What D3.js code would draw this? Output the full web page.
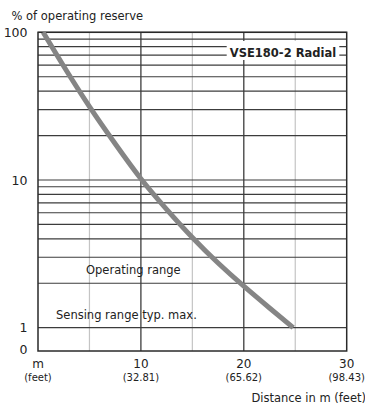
<!DOCTYPE html>
<html><head><meta charset="utf-8">
<script src="https://cdn.jsdelivr.net/npm/d3@7"></script>
<style>
html,body{margin:0;padding:0;background:#fff;}
svg{display:block;font-family:"DejaVu Sans",sans-serif;}
</style></head>
<body><svg id="c" width="365" height="406"></svg>
<script>
// ---- data ----
const distance = [0.5, 2.5, 5, 7.5, 10, 12.5, 15, 17.5, 20, 22.5, 24.8];
const reserve  = [100, 58.9, 31.4, 17.6, 10.2, 6.33, 4.08, 2.74, 1.91, 1.36, 1.0];
const xMajorTicks = [0, 10, 20, 30];
const xTickLabels = ["m", "10", "20", "30"];
const xFeetLabels = ["(feet)", "(32.81)", "(65.62)", "(98.43)"];
const xMinorTicks = [5, 15, 25];
const yGridValues = [1,2,3,4,5,6,7,8,9,10,20,30,40,50,60,70,80,90,100];
const yTickValues = [1, 10, 100];
const yTickLabels = ["1", "10", "100"];
const yZeroLabel = "0";
const seriesLabel = "VSE180-2 Radial";
const yTitle = "% of operating reserve";
const xTitle = "Distance in m (feet)";
const operatingLabel = "Operating range";
const sensingLabel = "Sensing range typ. max.";

// ---- layout ----
const pL = 38, pR = 346.7, pT = 32.3, pB = 351;
const svg = d3.select("#c");
const x = d3.scaleLinear().domain([0, 30]).range([pL, pR]);
const y = d3.scaleLog().domain([1, 100]).range([327.7, pT]);

const g = svg.append("g");

// minor verticals
g.selectAll("line.vmin").data(xMinorTicks).join("line")
  .attr("x1", d => x(d)).attr("x2", d => x(d))
  .attr("y1", pT).attr("y2", pB)
  .attr("stroke", "#c4c4c4").attr("stroke-width", 1.2);

// horizontal grid
g.selectAll("line.h").data(yGridValues).join("line")
  .attr("x1", pL).attr("x2", pR)
  .attr("y1", d => y(d)).attr("y2", d => y(d))
  .attr("stroke", "#3c3c3c").attr("stroke-width", 1.2);

// major verticals
g.selectAll("line.vmaj").data(xMajorTicks.slice(1, -1)).join("line")
  .attr("x1", d => x(d)).attr("x2", d => x(d))
  .attr("y1", pT).attr("y2", pB)
  .attr("stroke", "#3c3c3c").attr("stroke-width", 1.3);

// frame
g.append("rect").attr("x", pL).attr("y", pT)
  .attr("width", pR - pL).attr("height", pB - pT)
  .attr("fill", "none").attr("stroke", "#2a2a2a").attr("stroke-width", 1.5);

// series label box
const lbl = g.append("g");
lbl.append("rect").attr("x", 226.7).attr("y", 41).attr("width", 339.3 - 226.7).attr("height", 19)
  .attr("fill", "#fff");
lbl.append("text").attr("x", 283).attr("y", 56.7).attr("text-anchor", "middle")
  .attr("font-size", 11.5).attr("font-weight", "bold").attr("fill", "#222").text(seriesLabel);

// range labels
g.append("text").attr("x", 86).attr("y", 274.3).attr("font-size", 11.5).attr("fill", "#222").text(operatingLabel);
g.append("text").attr("x", 56).attr("y", 319).attr("font-size", 11.5).attr("fill", "#222").text(sensingLabel);

// curve
const pts = distance.map((d, i) => [d, reserve[i]]);
g.append("path").datum(pts)
  .attr("d", d3.line().x(d => x(d[0])).y(d => y(d[1])).curve(d3.curveNatural))
  .attr("fill", "none").attr("stroke", "#858585").attr("stroke-width", 5);

// y tick labels
g.selectAll("text.yt").data(yTickValues).join("text")
  .attr("x", 27.5).attr("y", d => y(d) + 4.5).attr("text-anchor", "end")
  .attr("font-size", 12.5).attr("fill", "#222").text((d, i) => yTickLabels[i]);
g.append("text").attr("x", 27.5).attr("y", pB + 2.5).attr("text-anchor", "end")
  .attr("font-size", 12.5).attr("fill", "#222").text(yZeroLabel);

// x tick labels
g.selectAll("text.xt").data(xMajorTicks).join("text")
  .attr("x", d => x(d)).attr("y", 368).attr("text-anchor", "middle")
  .attr("font-size", 12).attr("fill", "#222").text((d, i) => xTickLabels[i]);
g.selectAll("text.xf").data(xMajorTicks).join("text")
  .attr("x", d => x(d)).attr("y", 380.5).attr("text-anchor", "middle")
  .attr("font-size", 10).attr("fill", "#222").text((d, i) => xFeetLabels[i]);

// titles
svg.append("text").attr("x", 11.5).attr("y", 19.5).attr("font-size", 11.5).attr("fill", "#222").text(yTitle);
svg.append("text").attr("x", 366).attr("y", 401.5).attr("text-anchor", "end").attr("font-size", 11.5).attr("fill", "#222").text(xTitle);
</script></body></html>
